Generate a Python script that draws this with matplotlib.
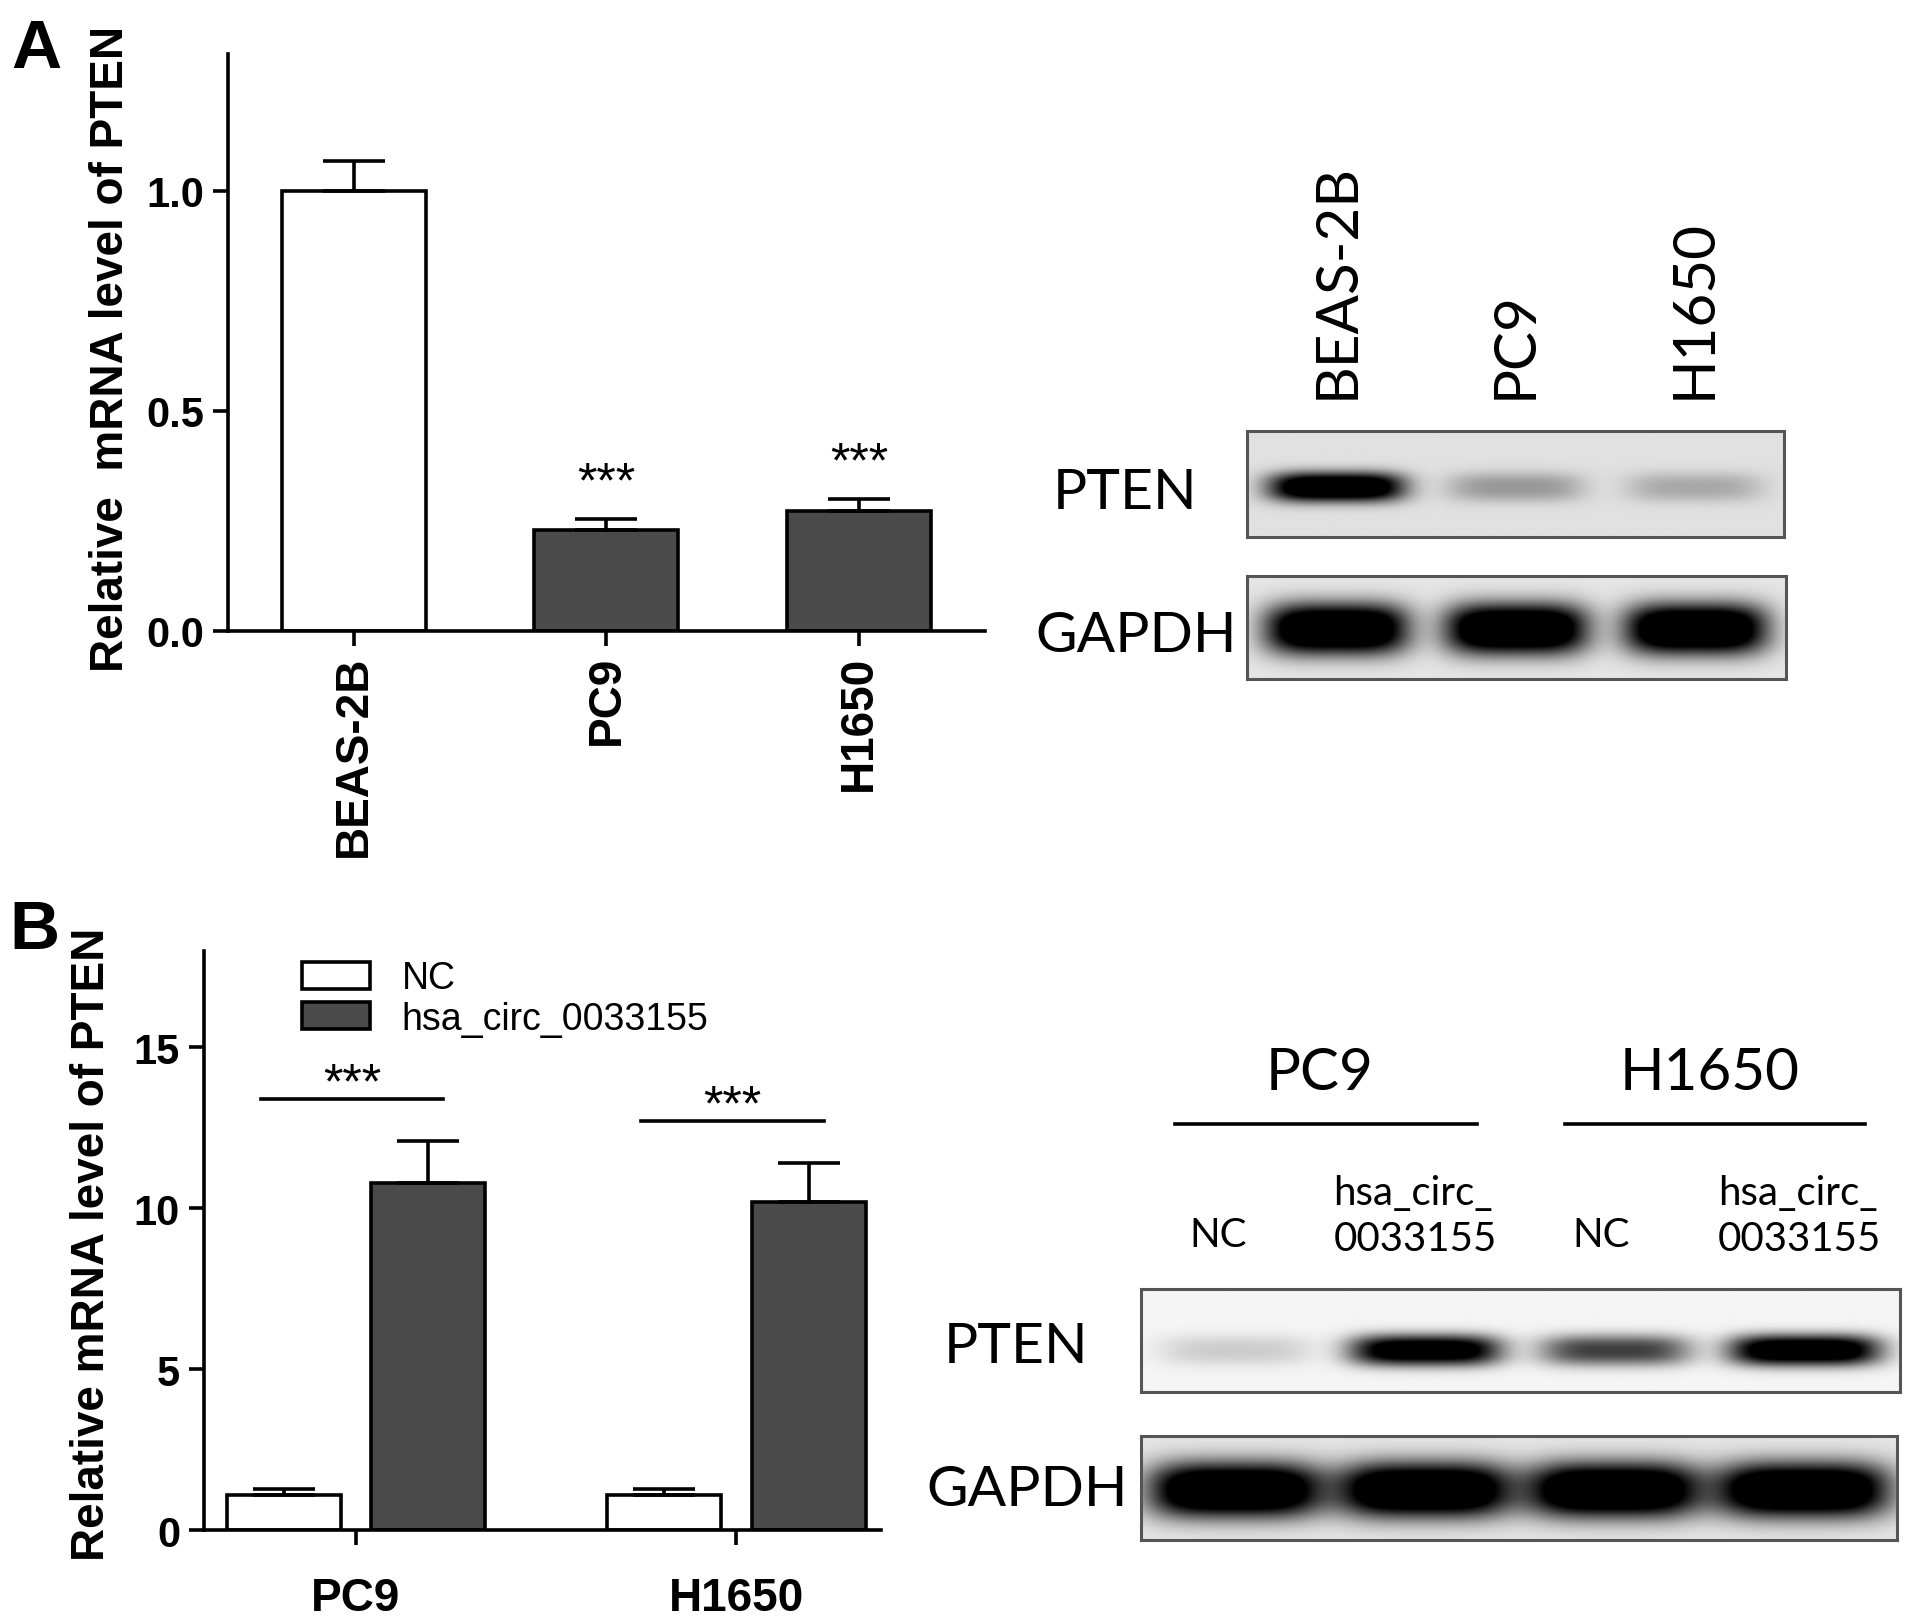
import numpy as np
import matplotlib
matplotlib.use("Agg")
import matplotlib.pyplot as plt
from matplotlib import font_manager

# ---------------- data ----------------
a_categories = ["BEAS-2B", "PC9", "H1650"]
a_means = [1.0, 0.23, 0.272]
a_errors = [0.067, 0.025, 0.028]
a_sig = ["", "***", "***"]

b_groups = ["PC9", "H1650"]
b_series = ["NC", "hsa_circ_0033155"]
b_nc_means = [1.1, 1.1]
b_nc_errors = [0.2, 0.2]
b_circ_means = [10.8, 10.2]
b_circ_errors = [1.3, 1.2]
b_sig_heights = [13.4, 12.7]
b_sig = ["***", "***"]

blot_a_lanes = ["BEAS-2B", "PC9", "H1650"]
blot_a_pten = [0.95, 0.22, 0.17]
blot_a_gapdh = [1.0, 1.0, 1.0]
blot_b_groups = ["PC9", "H1650"]
blot_b_lanes = ["NC", "hsa_circ_\n0033155", "NC", "hsa_circ_\n0033155"]
blot_b_pten = [0.12, 0.92, 0.55, 0.97]
blot_b_gapdh = [1.0, 1.0, 1.0, 1.0]

# ---------------- style ----------------
CHART_FONT = "Liberation Sans"
names = {f.name for f in font_manager.fontManager.ttflist}
BLOT_FONT = "Liberation Sans Narrow" if "Liberation Sans Narrow" in names else "Lato"
DARK = "#4a4a4a"
LW = 2.6

plt.rcParams["font.family"] = [CHART_FONT, "DejaVu Sans"]

fig = plt.figure(figsize=(19.13, 16.24), dpi=100)


def style_axes(ax):
    for s in ["top", "right"]:
        ax.spines[s].set_visible(False)
    for s in ["left", "bottom"]:
        ax.spines[s].set_linewidth(LW)
    ax.tick_params(axis="both", length=11, width=LW, direction="out",
                   labelsize=30, pad=6)
    for lab in ax.get_yticklabels() + ax.get_xticklabels():
        lab.set_fontweight("bold")


# ---------------- Panel A bar chart ----------------
axA = fig.add_axes([0.119, 0.611, 0.396, 0.355])
xa = np.arange(len(a_categories))
axA.bar(xa, a_means, width=0.57, color=["white", DARK, DARK],
        edgecolor="black", linewidth=LW, zorder=2)
axA.errorbar(xa, a_means, yerr=[np.zeros(len(a_means)), a_errors], fmt="none",
             ecolor="black", elinewidth=LW, capsize=22, capthick=LW, zorder=3)
for xi, m, e, s in zip(xa, a_means, a_errors, a_sig):
    if s:
        axA.text(xi, m + e + 0.05, s, ha="center", va="baseline", fontsize=36)
axA.set_xlim(-0.5, 2.5)
axA.set_ylim(0, 1.31)
axA.set_yticks([0.0, 0.5, 1.0])
axA.set_yticklabels(["0.0", "0.5", "1.0"])
axA.set_xticks(xa)
axA.set_xticklabels(a_categories, rotation=90)
style_axes(axA)
for lab in axA.get_xticklabels():
    lab.set_fontsize(33)
axA.set_ylabel("Relative  mRNA level of PTEN", fontsize=33, fontweight="bold")
axA.yaxis.set_label_coords(-0.125, 0.49)

# ---------------- Panel B bar chart ----------------
axB = fig.add_axes([0.1065, 0.057, 0.354, 0.357])
xb = np.arange(len(b_groups))
off, w = 0.19, 0.30
axB.bar(xb - off, b_nc_means, width=w, color="white", edgecolor="black",
        linewidth=LW, zorder=2, label=b_series[0])
axB.bar(xb + off, b_circ_means, width=w, color=DARK, edgecolor="black",
        linewidth=LW, zorder=2, label=b_series[1])
axB.errorbar(xb - off, b_nc_means, yerr=[np.zeros(2), b_nc_errors], fmt="none",
             ecolor="black", elinewidth=LW, capsize=22, capthick=LW, zorder=3)
axB.errorbar(xb + off, b_circ_means, yerr=[np.zeros(2), b_circ_errors], fmt="none",
             ecolor="black", elinewidth=LW, capsize=22, capthick=LW, zorder=3)
for xi, h, s in zip(xb, b_sig_heights, b_sig):
    axB.plot([xi - 0.25, xi + 0.23], [h, h], color="black", lw=LW)
    axB.text(xi - 0.01, h + 0.05, s, ha="center", va="baseline", fontsize=36)
axB.set_xlim(-0.40, 1.38)
axB.set_ylim(0, 18)
axB.set_yticks([0, 5, 10, 15])
axB.set_xticks(xb)
axB.set_xticklabels(b_groups)
style_axes(axB)
for lab in axB.get_xticklabels():
    lab.set_fontsize(33)
axB.tick_params(axis="x", pad=22)
axB.set_ylabel("Relative mRNA level of PTEN", fontsize=33, fontweight="bold")
axB.yaxis.set_label_coords(-0.133, 0.496)
leg = axB.legend(loc="upper left", bbox_to_anchor=(0.158, 0.408),
                 bbox_transform=fig.transFigure, frameon=False, fontsize=27,
                 handlelength=1.8, handleheight=0.72, handletextpad=0.85,
                 labelspacing=0.12, borderpad=0, borderaxespad=0)

# panel letters
fig.text(0.019, 0.969, "A", fontsize=50, fontweight="bold", ha="center", va="center")
fig.text(0.018, 0.427, "B", fontsize=50, fontweight="bold", ha="center", va="center")


# ---------------- Western blots ----------------
def band_image(intens, cy, wy, wx, bg, n_px=300, ny=120):
    n = len(intens)
    xs = np.linspace(0, n, n * n_px)
    ys = np.linspace(1, 0, ny)
    X, Y = np.meshgrid(xs, ys)
    dark = np.full(X.shape, bg)
    for i, v in enumerate(intens):
        prof = np.exp(-np.abs((X - (i + 0.5)) / wx) ** 4) * \
            np.exp(-np.abs((Y - cy) / wy) ** 2.5)
        dark = dark + 1.3 * v * prof
    return 1 - np.clip(dark, 0, 1)


def blot(rect, intens, cy, wy, wx, bg):
    ax = fig.add_axes(rect)
    n = len(intens)
    ax.imshow(band_image(intens, cy, wy, wx, bg), extent=(0, n, 0, 1),
              aspect="auto", cmap="gray", vmin=0, vmax=1,
              interpolation="bilinear")
    ax.set_xlim(0, n)
    ax.set_ylim(0, 1)
    ax.set_xticks([])
    ax.set_yticks([])
    for s in ax.spines.values():
        s.set_linewidth(2.2)
        s.set_color("#555555")
    return ax


bA1 = blot([0.652, 0.669, 0.2805, 0.065], blot_a_pten, 0.47, 0.14, 0.38, 0.12)
bA2 = blot([0.652, 0.581, 0.2817, 0.064], blot_a_gapdh, 0.48, 0.25, 0.40, 0.10)
for i, lab in enumerate(blot_a_lanes):
    bA1.text(i + 0.5, 1.31, lab, rotation=90, ha="center", va="bottom",
             fontsize=42, family=BLOT_FONT, transform=bA1.transData)
fig.text(0.588, 0.696, "PTEN", fontsize=41, family=BLOT_FONT, ha="center", va="center")
fig.text(0.594, 0.608, "GAPDH", fontsize=41, family=BLOT_FONT, ha="center", va="center")

bB1 = blot([0.5963, 0.1421, 0.3967, 0.0636], blot_b_pten, 0.40, 0.15, 0.40, 0.04)
bB2 = blot([0.5963, 0.051, 0.3954, 0.064], blot_b_gapdh, 0.48, 0.27, 0.46, 0.10)
fig.text(0.531, 0.170, "PTEN", fontsize=41, family=BLOT_FONT, ha="center", va="center")
fig.text(0.537, 0.082, "GAPDH", fontsize=41, family=BLOT_FONT, ha="center", va="center")

group_x = [(0.614, 0.772), (0.818, 0.975)]
for (x0, x1), g in zip(group_x, blot_b_groups):
    fig.add_artist(plt.Line2D([x0, x1], [0.307, 0.307], color="black", lw=2.6,
                              transform=fig.transFigure))
    fig.text((x0 + x1) / 2 - 0.003, 0.339, g, fontsize=42, family=BLOT_FONT,
             ha="center", va="center")

lane_x = [0.637, 0.697, 0.837, 0.898]
for xl, lab in zip(lane_x, blot_b_lanes):
    if "\n" in lab:
        fig.text(xl, 0.251, lab, fontsize=29, family=BLOT_FONT, ha="left",
                 va="center", multialignment="left", linespacing=1.3)
    else:
        fig.text(xl, 0.239, lab, fontsize=29, family=BLOT_FONT, ha="center",
                 va="center")

fig.savefig("out.png", dpi=100)
